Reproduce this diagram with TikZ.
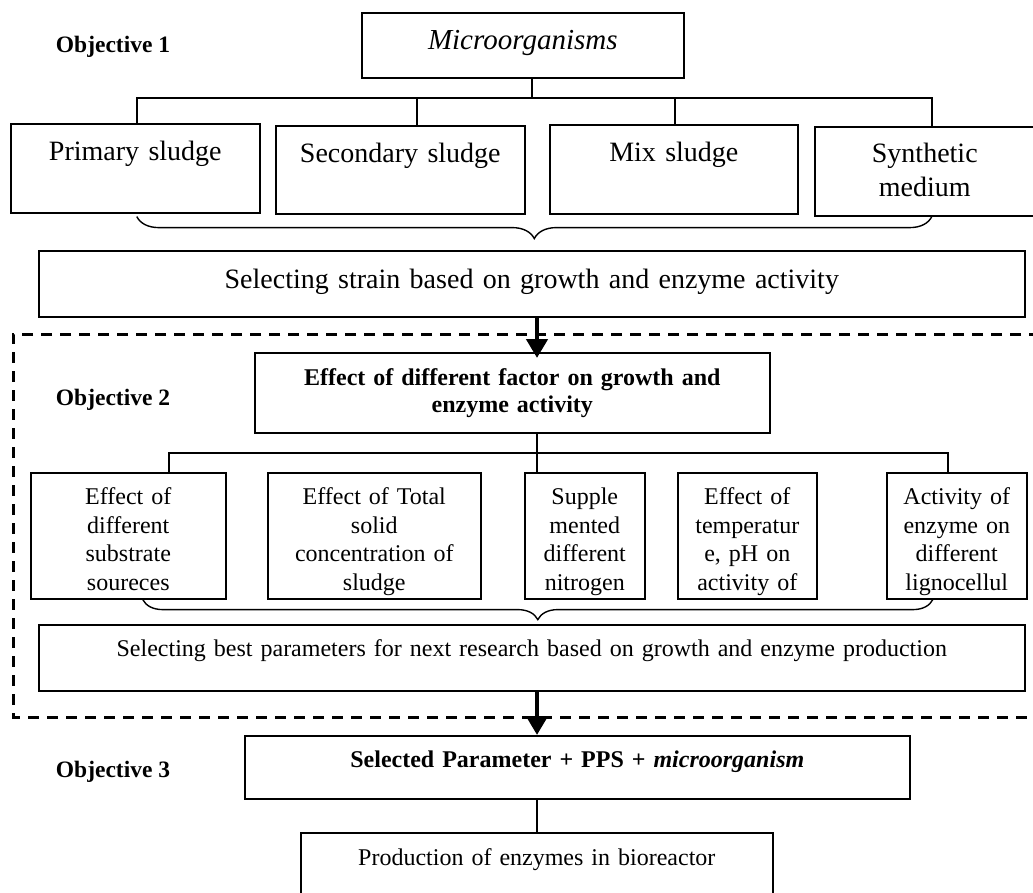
\documentclass[tikz,border=0pt]{standalone}
\usepackage{fontspec}
\setmainfont{Liberation Serif}
\usetikzlibrary{arrows.meta,calc,positioning,decorations.pathreplacing}

\begin{document}
\begin{tikzpicture}[x=1pt,y=-1pt,
  box/.style={draw,line width=1.6pt,inner sep=0pt,align=center,anchor=north west},
  bigbox/.style={box,font=\fontsize{28}{34}\selectfont},
  smallbox/.style={box,font=\fontsize{24}{28.5}\selectfont},
  boldbox/.style={box,font=\fontsize{24}{27}\selectfont\bfseries},
  objlabel/.style={font=\fontsize{23.5}{28}\selectfont\bfseries},
  link/.style={line width=1.4pt},
  flow/.style={line width=4.5pt,-{Triangle[length=19pt,width=21pt]}},
  bracket/.style={line width=1.4pt,decorate,decoration={brace,mirror,amplitude=#1}},
  dashframe/.style={line width=3pt,dash pattern=on 11pt off 8pt}]

  \useasboundingbox (0,0) rectangle (1033,892);
  \clip (0,0) rectangle (1033,892);

  % Objective 1
  \node[objlabel] (obj1) at (113,47) {Objective 1};
  \node[box,text width=322pt,text height=37pt,text depth=28pt,
    font=\fontsize{29}{34}\selectfont\itshape] (micro) at (361,12) {Microorganisms};

  \node[bigbox,text width=249pt,text height=37pt,text depth=52pt] (prim) at (10,123) {Primary sludge};
  \node[bigbox,text width=249pt,text height=37pt,text depth=51pt] (sec) at (275,125) {Secondary sludge};
  \node[bigbox,text width=248pt,text height=37pt,text depth=52pt] (mix) at (549,124) {Mix sludge};
  \node[bigbox,text width=220pt,text height=36pt,text depth=53pt] (syn) at (814,126) {Synthetic\\medium};

  % tree below the microorganisms box
  \coordinate (bus1) at (532,98);
  \draw[link] (micro.south -| bus1) -- (bus1);
  \draw[link] ([xshift=1.5pt]prim.north) |- (bus1) -| ([xshift=7pt]syn.north);
  \draw[link] ([xshift=16.5pt]sec.north) -- ([xshift=16.5pt]sec.north |- bus1);
  \draw[link] ([xshift=1pt]mix.north) -- ([xshift=1pt]mix.north |- bus1);

  \draw[bracket=22pt] ($(prim.south)+(1.5,3)$) -- ($(syn.south)+(7,0)$);

  \node[bigbox,text width=986pt,text height=38pt,text depth=28pt] (strain) at (38,250)
    {Selecting strain based on growth and enzyme activity};

  % Objective 2 (dashed frame)
  \draw[dashframe] (1040,334) -- (13,334) -- (13,717) -- (1040,717);

  \node[objlabel] (obj2) at (113,400) {Objective 2};
  \node[boldbox,text width=515pt,text height=33pt,text depth=47pt] (effect) at (254,352)
    {Effect of different factor on growth and\\enzyme activity};

  \node[smallbox,text width=195pt,text height=32pt,text depth=94pt] (b1) at (30,472)
    {Effect of\\different\\substrate\\soureces};
  \node[smallbox,text width=213pt,text height=32pt,text depth=94pt] (b2) at (267,472)
    {Effect of Total\\solid\\concentration of\\sludge};
  \node[smallbox,text width=120pt,text height=32pt,text depth=94pt] (b3) at (524,472)
    {Supple\\mented\\different\\nitrogen};
  \node[smallbox,text width=139pt,text height=32pt,text depth=94pt] (b4) at (677,472)
    {Effect of\\temperatur\\e, pH on\\activity of};
  \node[smallbox,text width=140pt,text height=32pt,text depth=94pt] (b5) at (886,472)
    {Activity of\\enzyme on\\different\\lignocellul};

  % tree below the factor box
  \coordinate (bus2) at (537,453);
  \draw[link] (effect.south -| bus2) -- (b3.north -| bus2);
  \draw[link] ([xshift=40.5pt]b1.north) |- (bus2) -| ([xshift=-9pt]b5.north);

  \draw[bracket=20pt] ([xshift=14.5pt]b1.south) -- ([xshift=-24pt]b5.south);

  \node[smallbox,text width=986pt,text height=32pt,text depth=34pt] (best) at (38,624)
    {Selecting best parameters for next research based on growth and enzyme production};

  % Objective 3
  \node[objlabel] (obj3) at (113,772) {Objective 3};
  \node[boldbox,text width=665pt,text height=32pt,text depth=31pt] (sel) at (244,735)
    {Selected Parameter + PPS + \textit{microorganism}};
  \node[smallbox,text width=472pt,text height=33pt,text depth=40pt] (prod) at (300,832)
    {Production of enzymes in bioreactor};

  % arrows between the stages
  \draw[flow] (strain.south -| bus2) -- ($(effect.north -| bus2)+(0,6)$);
  \draw[flow] (best.south -| bus2) -- (sel.north -| bus2);
  \draw[link] (sel.south -| bus2) -- (prod.north -| bus2);

\end{tikzpicture}
\end{document}
